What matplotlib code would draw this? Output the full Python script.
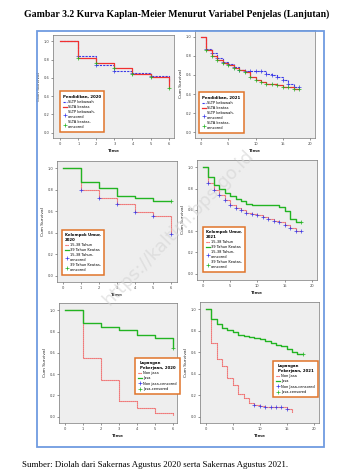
import matplotlib
matplotlib.use("Agg")
import matplotlib.pyplot as plt
from matplotlib.lines import Line2D
from matplotlib.patches import Rectangle
import numpy as np

# ---------------- data ----------------
title_text = "Gambar 3.2 Kurva Kaplan-Meier Menurut Variabel Penjelas (Lanjutan)"
source_text = "Sumber: Diolah dari Sakernas Agustus 2020 serta Sakernas Agustus 2021."
watermark = "https://kaltim.bps.go.id"

# Panel 1: Pendidikan 2020
p1_title = "Pendidikan, 2020"
p1_labels = ["SLTP kebawah", "SLTA keatas", "SLTP kebawah-\ncensored", "SLTA keatas-\ncensored"]
p1_t = [0, 1, 2, 3, 4, 5, 6]
p1_g1 = [1.0, 0.845, 0.745, 0.676, 0.658, 0.615, 0.56]
p1_g2 = [1.0, 0.816, 0.766, 0.712, 0.64, 0.604, 0.486]
p1_c1 = [1, 2, 3, 4, 5]
p1_c2 = [1, 2, 3, 4, 5, 6]

# Panel 2: Pendidikan 2021
p2_title = "Pendidikan, 2021"
p2_labels = ["SLTP kebawah", "SLTA keatas", "SLTP kebawah-\ncensored", "SLTA keatas-\ncensored"]
p2_t = list(range(0, 19))
p2_g1 = [1.0, 0.87, 0.83, 0.78, 0.74, 0.71, 0.68, 0.65, 0.64, 0.64, 0.64, 0.64,
         0.61, 0.60, 0.58, 0.55, 0.50, 0.47, 0.47]
p2_g2 = [1.0, 0.86, 0.80, 0.76, 0.72, 0.70, 0.67, 0.65, 0.63, 0.58, 0.55, 0.53,
         0.51, 0.50, 0.49, 0.47, 0.47, 0.45, 0.45]
p2_c1 = [1, 2, 3, 4, 5, 6, 7, 8, 9, 10, 11, 12, 13, 14, 15, 16, 17, 18]
p2_c2 = [1, 2, 3, 4, 5, 6, 7, 8, 9, 10, 11, 12, 13, 14, 15, 16, 17, 18]

# Panel 3: Kelompok Umur 2020
p3_title = "Kelompok Umur,\n2020"
p3_labels = ["15-38 Tahun", "39 Tahun Keatas", "15-38 Tahun-\ncensored", "39 Tahun Keatas-\ncensored"]
p3_t = [0, 1, 2, 3, 4, 5, 6]
p3_g1 = [1.0, 0.80, 0.72, 0.666, 0.595, 0.555, 0.385]
p3_g2 = [1.0, 0.871, 0.814, 0.745, 0.726, 0.70, 0.70]
p3_c1 = [1, 2, 3, 4, 5, 6]
p3_c2 = [6]

# Panel 4: Kelompok Umur 2021
p4_title = "Kelompok Umur,\n2021"
p4_labels = ["15-38 Tahun", "39 Tahun Keatas", "15-38 Tahun-\ncensored", "39 Tahun Keatas-\ncensored"]
p4_t = list(range(0, 19))
p4_g1 = [1.0, 0.85, 0.79, 0.74, 0.695, 0.65, 0.62, 0.60, 0.575, 0.56, 0.55, 0.53,
         0.51, 0.50, 0.49, 0.46, 0.43, 0.40, 0.40]
p4_g2 = [1.0, 0.91, 0.83, 0.80, 0.76, 0.73, 0.70, 0.68, 0.66, 0.65, 0.65, 0.65,
         0.65, 0.65, 0.63, 0.59, 0.51, 0.49, 0.49]
p4_c1 = [1, 2, 3, 4, 5, 6, 7, 8, 9, 10, 11, 12, 13, 14, 15, 16, 17, 18]
p4_c2 = [18]

# Panel 5: Lapangan Pekerjaan 2020
p5_title = "Lapangan\nPekerjaan, 2020"
p5_labels = ["Non jasa", "Jasa", "Non jasa-censored", "Jasa-censored"]
p5_t = [0, 1, 2, 3, 4, 5, 6]
p5_g1 = [1.0, 0.553, 0.344, 0.147, 0.084, 0.034, 0.019]
p5_g2 = [1.0, 0.884, 0.84, 0.82, 0.77, 0.745, 0.65]
p5_c1 = []
p5_c2 = [6]

# Panel 6: Lapangan Pekerjaan 2021
p6_title = "Lapangan\nPekerjaan, 2021"
p6_labels = ["Non Jasa", "Jasa", "Non Jasa-censored", "Jasa-censored"]
p6_t1 = list(range(0, 17))
p6_g1 = [1.0, 0.69, 0.535, 0.475, 0.36, 0.295, 0.21, 0.17, 0.13, 0.11, 0.10,
         0.09, 0.085, 0.085, 0.085, 0.07, 0.03]
p6_t2 = list(range(0, 19))
p6_g2 = [1.0, 0.91, 0.86, 0.83, 0.81, 0.79, 0.76, 0.75, 0.74, 0.73, 0.72, 0.71,
         0.69, 0.67, 0.66, 0.63, 0.60, 0.585, 0.585]
p6_c1 = [9, 10, 11, 12, 13, 14, 15]
p6_c2 = [18]

y_ticks = [0.0, 0.2, 0.4, 0.6, 0.8, 1.0]
x_ticks_short = [0, 1, 2, 3, 4, 5, 6]
x_ticks_long = [0, 5, 10, 15, 20]

# ---------------- style ----------------
W, H = 352, 476
fig = plt.figure(figsize=(W / 100, H / 100), dpi=100)
fig.patch.set_facecolor("white")

BLUE = "#3a3ae8"
RED = "#f03030"
GREEN = "#22b422"
ORANGE = "#e0742a"
FRAME = "#6f9be0"


def add_ax(l, t, r, b):
    return fig.add_axes([l / W, 1 - b / H, (r - l) / W, (b - t) / H])


def style(ax, xticks, xlim):
    ax.set_facecolor("#eeeeee")
    ax.set_xlim(*xlim)
    ax.set_ylim(-0.06, 1.07)
    ax.set_xticks(xticks)
    ax.set_yticks(y_ticks)
    ax.set_yticklabels([f"{v:.1f}" for v in y_ticks])
    ax.tick_params(labelsize=2.6, length=1.2, width=0.4, pad=1.5, colors="#444444")
    for s in ax.spines.values():
        s.set_linewidth(0.5)
        s.set_color("#777777")
    ax.set_xlabel("Time", fontsize=3.2, fontweight="bold", labelpad=2, color="#222222")
    ax.set_ylabel("Cum Survival", fontsize=3.2, labelpad=2, color="#222222")


def km(ax, t, s, color, ls, lw, cens, ccolor):
    ax.step(t, s, where="post", color=color, ls=ls, lw=lw)
    ts = np.array(t)
    ss = np.array(s)
    for c in cens:
        i = np.searchsorted(ts, c, side="right") - 1
        ax.plot([c], [ss[i]], marker="+", ms=2.2, mew=0.5, color=ccolor, ls="none")


def legend(ax, title, labels, c1, c2, ls1, x0, y0, center=False):
    handles = [
        Line2D([], [], color=c1, ls=ls1, lw=0.8),
        Line2D([], [], color=c2, ls="-", lw=0.9),
        Line2D([], [], color=BLUE, marker="+", ms=2.2, mew=0.5, ls="none"),
        Line2D([], [], color=GREEN, marker="+", ms=2.2, mew=0.5, ls="none"),
    ]
    leg = ax.legend(handles, labels, title=title, loc="lower left",
                    bbox_to_anchor=(x0 / W, 1 - y0 / H), bbox_transform=fig.transFigure,
                    fontsize=2.6, title_fontsize=2.8, handlelength=1.1,
                    handletextpad=0.3, labelspacing=0.35, borderpad=0.9,
                    frameon=True, fancybox=False, alignment="center" if center else "left")
    leg.get_title().set_fontweight("bold")
    fr = leg.get_frame()
    fr.set_edgecolor(ORANGE)
    fr.set_linewidth(1.1)
    fr.set_facecolor("white")
    fr.set_alpha(1)


# Panel 1
ax1 = add_ax(53, 35, 174, 138)
style(ax1, x_ticks_short, (-0.4, 6.3))
km(ax1, p1_t, p1_g1, BLUE, (0, (2, 1)), 0.8, p1_c1, BLUE)
km(ax1, p1_t, p1_g2, RED, "-", 0.9, p1_c2, GREEN)
legend(ax1, p1_title, p1_labels, BLUE, RED, (0, (2, 1)), 58, 134)

# Panel 2
ax2 = add_ax(195, 30, 315, 138)
style(ax2, x_ticks_long, (-1.1, 20.9))
km(ax2, p2_t, p2_g1, BLUE, (0, (2, 1)), 0.8, p2_c1, BLUE)
km(ax2, p2_t, p2_g2, RED, "-", 0.9, p2_c2, GREEN)
legend(ax2, p2_title, p2_labels, BLUE, RED, (0, (2, 1)), 197, 135)

# Panel 3
ax3 = add_ax(57, 161, 177, 282)
style(ax3, x_ticks_short, (-0.35, 6.33))
km(ax3, p3_t, p3_g1, RED, (0, (1, 0.8)), 0.8, p3_c1, BLUE)
km(ax3, p3_t, p3_g2, GREEN, "-", 1.0, p3_c2, GREEN)
legend(ax3, p3_title, p3_labels, RED, GREEN, (0, (1, 0.8)), 60, 277, center=True)

# Panel 4
ax4 = add_ax(197, 160, 317, 280)
style(ax4, x_ticks_long, (-1.04, 20.9))
km(ax4, p4_t, p4_g1, RED, (0, (1, 0.8)), 0.8, p4_c1, BLUE)
km(ax4, p4_t, p4_g2, GREEN, "-", 1.0, p4_c2, GREEN)
legend(ax4, p4_title, p4_labels, RED, GREEN, (0, (1, 0.8)), 201, 274, center=True)

# Panel 5
ax5 = add_ax(59, 303, 177, 423)
style(ax5, x_ticks_short, (-0.33, 6.22))
km(ax5, p5_t, p5_g1, RED, (0, (1, 0.8)), 0.8, p5_c1, BLUE)
km(ax5, p5_t, p5_g2, GREEN, "-", 1.0, p5_c2, GREEN)
legend(ax5, p5_title, p5_labels, RED, GREEN, (0, (1, 0.8)), 133, 396, center=True)

# Panel 6
ax6 = add_ax(200, 302, 319, 423)
style(ax6, x_ticks_long, (-1.1, 21.0))
km(ax6, p6_t1, p6_g1, RED, (0, (1, 0.8)), 0.8, p6_c1, BLUE)
km(ax6, p6_t2, p6_g2, GREEN, "-", 1.0, p6_c2, GREEN)
legend(ax6, p6_title, p6_labels, RED, GREEN, (0, (1, 0.8)), 271, 399, center=True)

# outer blue frame
fig.add_artist(Rectangle((37 / W, 1 - 447 / H), (324 - 37) / W, (447 - 31) / H,
                         transform=fig.transFigure, fill=False, edgecolor=FRAME, lw=1.3))

# title and source
fig.text(177 / W, 1 - 14 / H, title_text, ha="center", va="center",
         family="Liberation Serif", fontweight="bold", fontsize=7.0)
fig.text(22 / W, 1 - 465 / H, source_text, ha="left", va="center",
         family="Liberation Serif", fontsize=6.4)

# watermark
fig.text(178 / W, 1 - 228 / H, watermark, ha="center", va="center", rotation=46,
         fontsize=13, color="#d4d4d4", alpha=0.6, zorder=10)

fig.savefig("out.png", dpi=100)
